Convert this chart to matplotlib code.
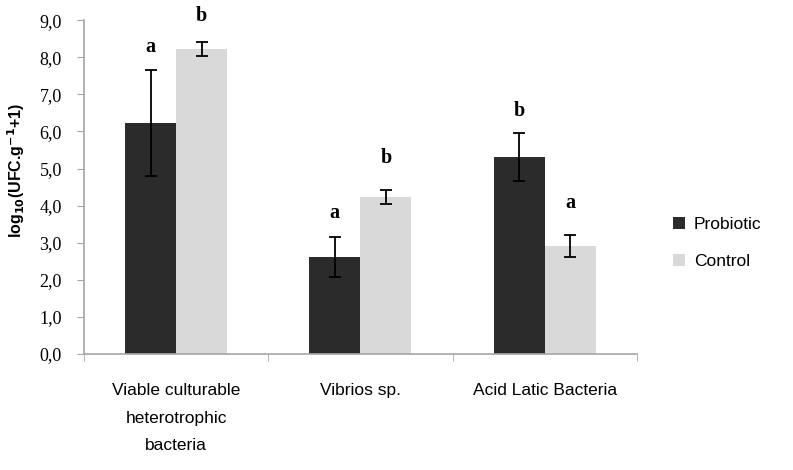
import matplotlib
matplotlib.use("Agg")
import matplotlib.pyplot as plt
import numpy as np

categories = ["Viable culturable\nheterotrophic\nbacteria", "Vibrios sp.", "Acid Latic Bacteria"]
series_names = ["Probiotic", "Control"]
probiotic = [6.23, 2.61, 5.32]
probiotic_err = [1.43, 0.54, 0.65]
control = [8.23, 4.22, 2.92]
control_err = [0.19, 0.19, 0.30]
probiotic_letters = ["a", "a", "b"]
control_letters = ["b", "b", "a"]
probiotic_letter_y = [8.27, 3.80, 6.55]
control_letter_y = [9.11, 5.28, 4.07]
yticks = np.arange(0, 9.01, 1.0)
ytick_labels = [f"{v:.1f}".replace(".", ",") for v in yticks]

dark = "#2b2b2b"
light = "#d9d9d9"
axis_color = "#a6a6a6"

fig = plt.figure(figsize=(7.93, 4.70), dpi=100)
ax = fig.add_axes([0.106, 0.247, 0.697, 0.710])

x = np.arange(len(categories))
w = 0.277
b1 = ax.bar(x - w/2, probiotic, w, color=dark, label=series_names[0], zorder=2)
b2 = ax.bar(x + w/2, control, w, color=light, label=series_names[1], zorder=2)
ax.errorbar(x - w/2, probiotic, yerr=probiotic_err, fmt="none", ecolor="black",
            elinewidth=1.3, capsize=4, capthick=1.3, zorder=3)
ax.errorbar(x + w/2, control, yerr=control_err, fmt="none", ecolor="black",
            elinewidth=1.3, capsize=4, capthick=1.3, zorder=3)

for xi, lab, ly in zip(x - w/2, probiotic_letters, probiotic_letter_y):
    ax.text(xi, ly, lab, ha="center", va="center", fontsize=14.5, fontweight="bold",
            family="Liberation Serif")
for xi, lab, ly in zip(x + w/2, control_letters, control_letter_y):
    ax.text(xi, ly, lab, ha="center", va="center", fontsize=14.5, fontweight="bold",
            family="Liberation Serif")

ax.set_xlim(-0.5, 2.5)
ax.set_ylim(0, 9)
ax.set_yticks(yticks)
ax.set_yticklabels(ytick_labels, family="Liberation Serif", fontsize=13)
ax.set_xticks(x)
ax.set_xticklabels(categories, family="Liberation Sans", fontsize=12.5, linespacing=2.05)
ax.set_xticks([-0.5, 0.5, 1.5, 2.5], minor=True)
ax.tick_params(axis="x", which="major", length=0, pad=21)
ax.tick_params(axis="x", which="minor", length=5, color=axis_color, direction="out")
ax.tick_params(axis="y", length=5, color=axis_color, direction="out", pad=11)

for s in ["top", "right"]:
    ax.spines[s].set_visible(False)
for s in ["left", "bottom"]:
    ax.spines[s].set_color(axis_color)
    ax.spines[s].set_linewidth(1.2)

ax.set_ylabel(r"log$_{\mathbf{10}}$(UFC.g$^{\mathbf{-1}}$+1)", fontsize=11.5, fontweight="bold",
              family="Liberation Sans")
ax.yaxis.set_label_coords(-0.104, 0.55)

leg = fig.legend(handles=[b1, b2], labels=series_names, loc="center left",
                 bbox_to_anchor=(0.829, 0.483), frameon=False,
                 prop={"family": "Liberation Sans", "size": 12.5},
                 handlelength=0.7, handleheight=0.7, handletextpad=0.5, labelspacing=1.25)

fig.savefig("out.png", dpi=100)
